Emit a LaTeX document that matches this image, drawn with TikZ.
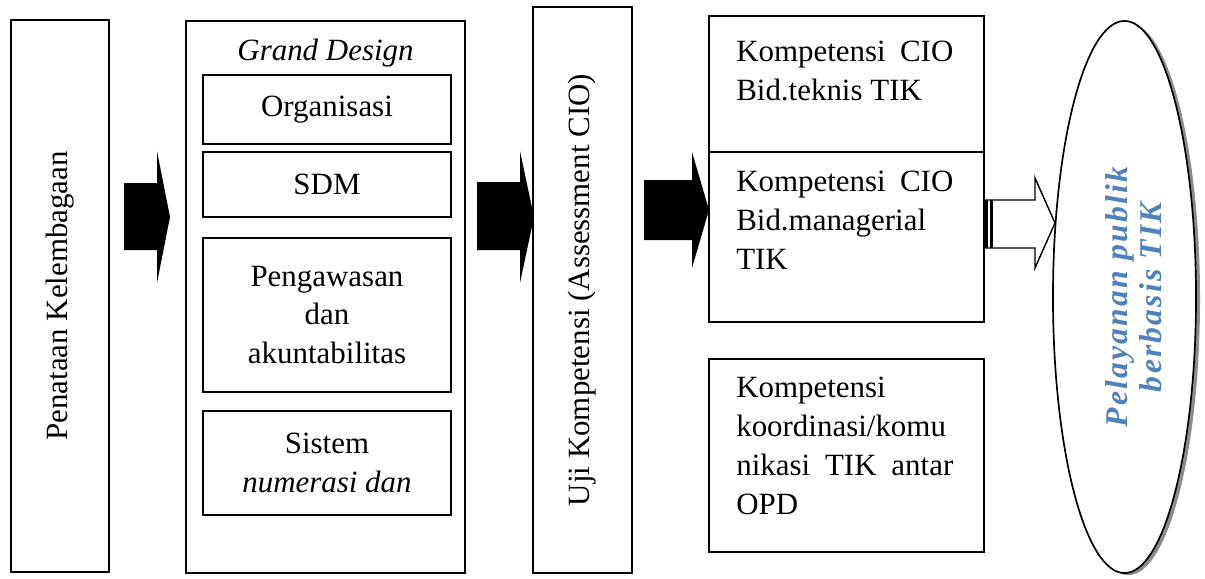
\documentclass[tikz,border=0pt]{standalone}
\usepackage{fontspec}
\setmainfont{LiberationSerif}[Extension=.ttf,UprightFont=*-Regular,BoldFont=*-Bold,ItalicFont=*-Italic,BoldItalicFont=*-BoldItalic]
\newfontfamily\ellipsefont{LiberationSerif}[Extension=.ttf,UprightFont=*-Regular,BoldFont=*-Bold,ItalicFont=*-Italic,BoldItalicFont=*-BoldItalic,LetterSpace=7]
\usetikzlibrary{fit,shapes.geometric,shadows}
\definecolor{tikblue}{RGB}{79,129,189}

\begin{document}
\begin{tikzpicture}
    [x=0.025cm,y=-0.025cm,
     every node/.style={font=\fontsize{22}{27.7}\selectfont},
     box/.style={draw,line width=1.2pt,inner sep=0pt},
     txt/.style={inner sep=0pt,align=center},
     kotak/.style={inner sep=0pt,text width=5.425cm,align=justify,anchor=north west},
     panah/.style={fill=black}]
    \useasboundingbox (0,0) rectangle (1205,579);
    % kolom kiri
    \node[box,fit={(11,20) (109,572)}] (kelembagaan) {};
    \node[txt,rotate=90] (kelembagaanT) at (kelembagaan.center) {Penataan Kelembagaan};
    % grand design
    \node[box,fit={(186,21) (465,573)}] (grand) {};
    \node[txt,anchor=base] (grandT) at (325.5,60) {\itshape Grand Design};
    \node[box,fit={(203,75) (451,144)}] (organisasi) {};
    \node[box,fit={(203,152) (451,217)}] (sdm) {};
    \node[box,fit={(203,238) (451,392)}] (pengawasan) {};
    \node[box,fit={(203,411) (451,515)}] (sistem) {};
    \node[txt] (organisasiT) at (organisasi.center) {Organisasi};
    \node[txt] (sdmT) at (sdm.center) {SDM};
    \node[txt] (pengawasanT) at (pengawasan.center) {Pengawasan\\dan\\akuntabilitas};
    \node[txt] (sistemT) at (sistem.center) {Sistem\\\itshape numerasi dan};
    % uji kompetensi
    \node[box,fit={(533,7) (632,573)}] (uji) {};
    \node[txt,rotate=90] (ujiT) at (uji.center) {Uji Kompetensi (Assessment CIO)};
    % kompetensi
    \node[box,fit={(709,16) (984,152)}] (teknis) {};
    \node[box,fit={(709,152) (984,322)}] (manajerial) {};
    \node[box,fit={(709,359) (984,552)}] (koordinasi) {};
    \node[kotak] (teknisT) at (736,41) {Kompetensi CIO\linebreak Bid.teknis TIK};
    \node[kotak] (manajerialT) at (736,171) {Kompetensi CIO\linebreak Bid.managerial\linebreak TIK};
    \node[kotak] (koordinasiT) at (736,377) {Kompetensi\linebreak koordinasi/komu\linebreak nikasi TIK antar\linebreak OPD};
    % pelayanan
    \node[ellipse,draw,line width=1.2pt,fill=white,inner sep=0pt,
          minimum width=3.575cm,minimum height=13.8cm,
          drop shadow={shadow xshift=0.1cm,shadow yshift=-0.05cm,fill=black!45,opacity=1}]
          (pelayanan) at (1124.5,297) {};
    \node[txt,rotate=90,text=tikblue,
          font=\ellipsefont\bfseries\itshape\fontsize{22.5}{24}\selectfont]
          (pelayananT) at (1134,297) {Pelayanan publik\\berbasis TIK};
    % panah hitam
    \fill[panah] (124,183) -- (157,183) -- (157,151) -- (170,217) -- (157,283) -- (157,250) -- (124,250) -- cycle;
    \fill[panah] (477,182) -- (520,182) -- (520,151) -- (534,217) -- (520,283) -- (520,250) -- (477,250) -- cycle;
    \fill[panah] (644,180) -- (692,180) -- (692,152) -- (709,210) -- (692,268) -- (692,240) -- (644,240) -- cycle;
    % panah putih
    \draw[line width=1pt,fill=white] (984,200) -- (1035,200) -- (1035,178) -- (1055,223) -- (1035,268) -- (1035,248) -- (984,248) -- cycle;
    \fill (984,200) rectangle (988,248);
    \fill (990,200) rectangle (993,248);
\end{tikzpicture}
\end{document}
